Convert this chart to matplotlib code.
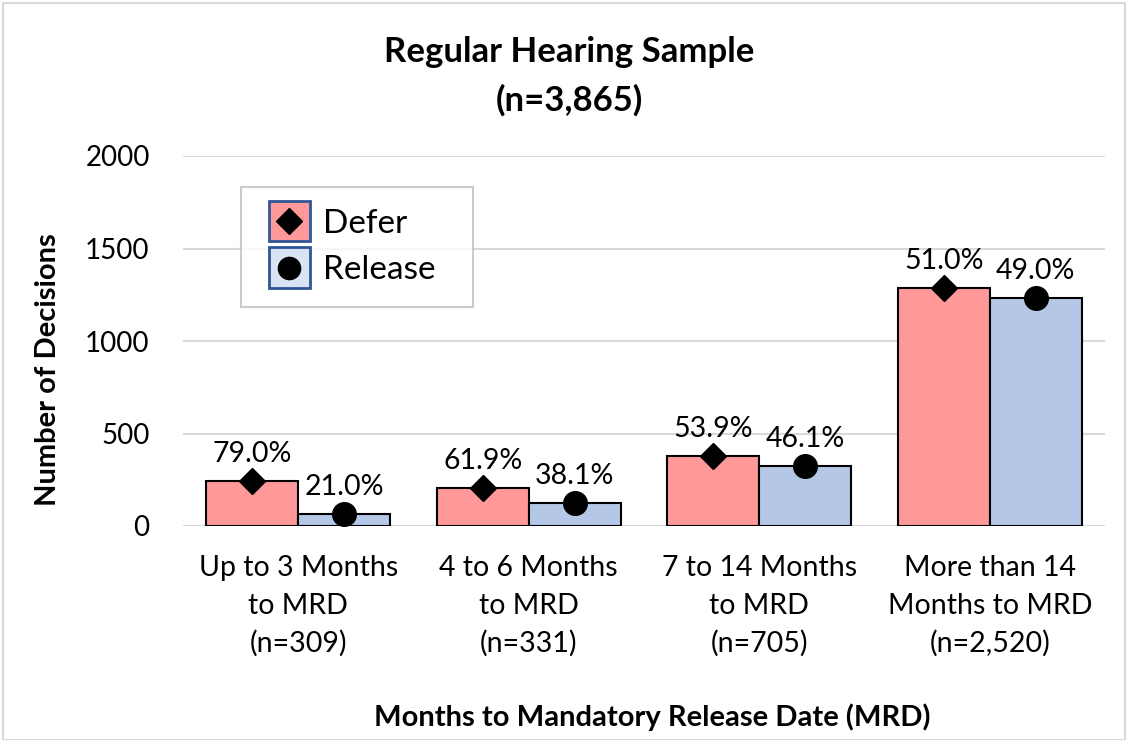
import matplotlib
matplotlib.use("Agg")
import matplotlib.pyplot as plt
from matplotlib.patches import Rectangle
from matplotlib.lines import Line2D
from matplotlib.legend_handler import HandlerBase
import numpy as np

categories = ["Up to 3 Months\nto MRD\n(n=309)", "4 to 6 Months\nto MRD\n(n=331)",
              "7 to 14 Months\nto MRD\n(n=705)", "More than 14\nMonths to MRD\n(n=2,520)"]
defer = [244, 205, 380, 1285]
release = [65, 126, 325, 1235]
defer_pct = ["79.0%", "61.9%", "53.9%", "51.0%"]
release_pct = ["21.0%", "38.1%", "46.1%", "49.0%"]
yticks = [0, 500, 1000, 1500, 2000]

plt.rcParams['font.family'] = ['Lato', 'DejaVu Sans']

fig = plt.figure(figsize=(11.28, 7.40), dpi=100)
ax = fig.add_axes([183/1128, 1-526/740, 922/1128, 370/740])

defer_color = "#FF9999"
release_color = "#B4C7E7"
x = np.arange(len(categories))
w = 0.4
ax.bar(x - w/2, defer, w, color=defer_color, edgecolor="black", linewidth=1.5, zorder=3)
ax.bar(x + w/2, release, w, color=release_color, edgecolor="black", linewidth=1.5, zorder=3)
ax.plot(x - w/2, defer, linestyle="none", marker="D", color="black", markersize=13, zorder=4)
ax.plot(x + w/2, release, linestyle="none", marker="o", color="black", markersize=17, zorder=4)

for xi, v, t in zip(x - w/2, defer, defer_pct):
    ax.annotate(t, (xi, v), xytext=(0, 10), textcoords="offset points", ha="center", va="bottom", fontsize=20.5)
for xi, v, t in zip(x + w/2, release, release_pct):
    ax.annotate(t, (xi, v), xytext=(0, 10), textcoords="offset points", ha="center", va="bottom", fontsize=20.5)

ax.set_xlim(-0.5, len(categories) - 0.5)
ax.set_ylim(0, 2000)
ax.set_yticks(yticks)
ax.set_yticklabels([str(t) for t in yticks], fontsize=20)
ax.set_xticks(x)
ax.set_xticklabels(categories, fontsize=20.5, linespacing=1.54)
ax.tick_params(axis="both", length=0)
ax.tick_params(axis="y", pad=24)
ax.tick_params(axis="x", pad=21)
ax.grid(axis="y", color="#D9D9D9", linewidth=1.5, zorder=0)
for s in ax.spines.values():
    s.set_visible(False)

fig.text(48/1128, 1-370/740, "Number of Decisions", rotation=90, ha="center", va="center",
         fontsize=21, fontweight="bold")
fig.text(652/1128, 1-717/740, "Months to Mandatory Release Date (MRD)", ha="center", va="center",
         fontsize=21, fontweight="bold")
fig.text(0.505, 1-52/740, "Regular Hearing Sample", ha="center", va="center", fontsize=25, fontweight="bold")
fig.text(0.505, 1-100/740, "(n=3,865)", ha="center", va="center", fontsize=25, fontweight="bold")


class MarkerBoxHandler(HandlerBase):
    def __init__(self, face, marker, ms):
        super().__init__()
        self.face, self.marker, self.ms = face, marker, ms

    def create_artists(self, legend, orig_handle, xdescent, ydescent, width, height, fontsize, trans):
        s = 29.5
        cx, cy = width / 2 - xdescent, height / 2 - ydescent
        r = Rectangle((cx - s/2, cy - s/2), s, s, facecolor=self.face, edgecolor="#2F5597",
                      linewidth=2, transform=trans)
        m = Line2D([cx], [cy], marker=self.marker, color="black", markersize=self.ms,
                   linestyle="none", transform=trans)
        return [r, m]


h1 = Line2D([], [])
h2 = Line2D([], [])
lx0 = (241 - 183) / 922
lw = (473 - 241) / 922
ly1 = (526 - 187) / 370
lh = (305 - 187) / 370
leg = ax.legend([h1, h2], ["Defer", "Release"], loc="upper left",
                bbox_to_anchor=(lx0, ly1 - lh, lw, lh), mode="expand", fontsize=24,
                handler_map={h1: MarkerBoxHandler(defer_color, "D", 13),
                             h2: MarkerBoxHandler("#DAE3F3", "o", 16)},
                frameon=True, fancybox=False, edgecolor="#BFBFBF", borderpad=0.65,
                borderaxespad=0, handlelength=1.6, handletextpad=0.2, labelspacing=0.5)
leg.get_frame().set_linewidth(1.5)
leg.set_zorder(5)

fig.add_artist(Rectangle((3/1128, 0), 1 - 6/1128, 1 - 3/740, transform=fig.transFigure,
                         fill=False, edgecolor="#D9D9D9", linewidth=1.5))

fig.savefig("out.png", dpi=100)
